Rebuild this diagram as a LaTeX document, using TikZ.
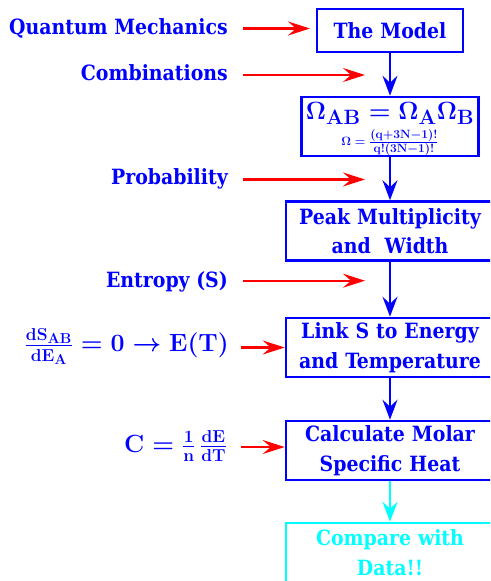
\documentclass[tikz,border=0pt]{standalone}
\usepackage[no-math]{fontspec}
\usepackage{amsmath}
\setmainfont{DejaVu Serif Condensed}
\usetikzlibrary{arrows.meta}
\DeclareMathSizes{13}{13}{11.5}{9}
\definecolor{aqua}{RGB}{0,255,255}
\definecolor{pblue}{RGB}{0,0,255}
\definecolor{pred}{RGB}{255,0,0}
\tikzset{
  flowbox/.style={draw=pblue, line width=2.6pt, text=pblue, font=\bfseries\fontsize{21}{29.5}\selectfont, align=center, inner sep=0pt, text width=#1, minimum width=#1},
  flowbox/.default=208pt,
  barrow/.style={draw=pblue, line width=2pt, -{Stealth[length=20pt,width=15pt,inset=7pt]}},
  carrow/.style={barrow, draw=aqua},
  rarrow/.style={draw=pred, line width=2.2pt, -{Stealth[length=22pt,width=14pt,inset=8pt]}},
  lbl/.style={text=pblue, font=\bfseries\fontsize{21}{24}\selectfont, anchor=base east, inner sep=0pt},
  mlbl/.style={text=pblue, font=\fontsize{26.5}{30}\selectfont\boldmath, anchor=east, inner sep=0pt},
  mtxt/.style={text=pblue, inner sep=0pt},
}
\begin{document}
\begin{tikzpicture}[x=1pt,y=1pt]
\useasboundingbox (0,0) rectangle (490,-581);
\clip (0,0) rectangle (490,-581);
% flow boxes
\node[flowbox=146pt, minimum height=43pt] (model) at (390,-30.5) {The Model};
\node[flowbox=177pt, minimum height=59pt] (omega) at (390,-126.5) {};
\node[mtxt, anchor=base, font=\fontsize{27.5}{28}\selectfont\boldmath] (omegaA) at (390,-119.5)
  {$\mathbf{\Omega_{AB}=\Omega_A\Omega_B}$};
\node[mtxt, font=\fontsize{13}{13}\selectfont\boldmath] (omegaB) at (390,-142.5)
  {$\mathbf{\Omega=\frac{(q+3N-1)!}{q!(3N-1)!}}$};
\node[flowbox, minimum height=59pt] (peak) at (390,-231) {Peak Multiplicity\\and~~Width};
\node[flowbox, minimum height=59pt] (link) at (390,-347.5) {Link S to Energy\\and Temperature};
\node[flowbox, minimum height=59pt] (calc) at (390,-450.5) {Calculate Molar\\Specific Heat};
\node[flowbox, draw=aqua, text=aqua, minimum height=59pt] (comp) at (390,-552.5) {Compare with\\Data!!};
% flow arrows
\draw[barrow] (model) -- (omega);
\draw[barrow] (omega) -- (peak);
\draw[barrow] (peak) -- (link);
\draw[barrow] (link) -- (calc);
\draw[carrow] (calc) -- (comp);
% labels
\node[lbl] (qm) at (228,-34.5) {Quantum Mechanics};
\node[lbl] (comb) at (228,-80) {Combinations};
\node[lbl] (prob) at (228,-184) {Probability};
\node[lbl] (ent) at (228,-287.7) {Entropy (S)};
\node[mlbl] (dsde) at (229,-346.5) {$\mathbf{\frac{dS_{AB}}{dE_A}=0\to E(T)}$};
\node[mlbl] (cform) at (227,-446) {$\mathbf{C=\frac{1}{n}\,\frac{dE}{dT}}$};
% red arrows
\coordinate (qs) at (243,-28.5);  \coordinate (qe) at (310,-28.5);
\coordinate (cs) at (243,-75);    \coordinate (ce) at (365,-75);
\coordinate (ps) at (243,-179.5); \coordinate (pe) at (365,-179.5);
\coordinate (es) at (243,-280.7); \coordinate (ee) at (365,-280.7);
\coordinate (ds) at (241,-347.5);
\coordinate (fs) at (241,-447);
\draw[rarrow] (qs) -- (qe);
\draw[rarrow] (cs) -- (ce);
\draw[rarrow] (ps) -- (pe);
\draw[rarrow] (es) -- (ee);
\draw[rarrow] (ds) -- (ds -| link.west);
\draw[rarrow] (fs) -- (fs -| calc.west);
\end{tikzpicture}
\end{document}
